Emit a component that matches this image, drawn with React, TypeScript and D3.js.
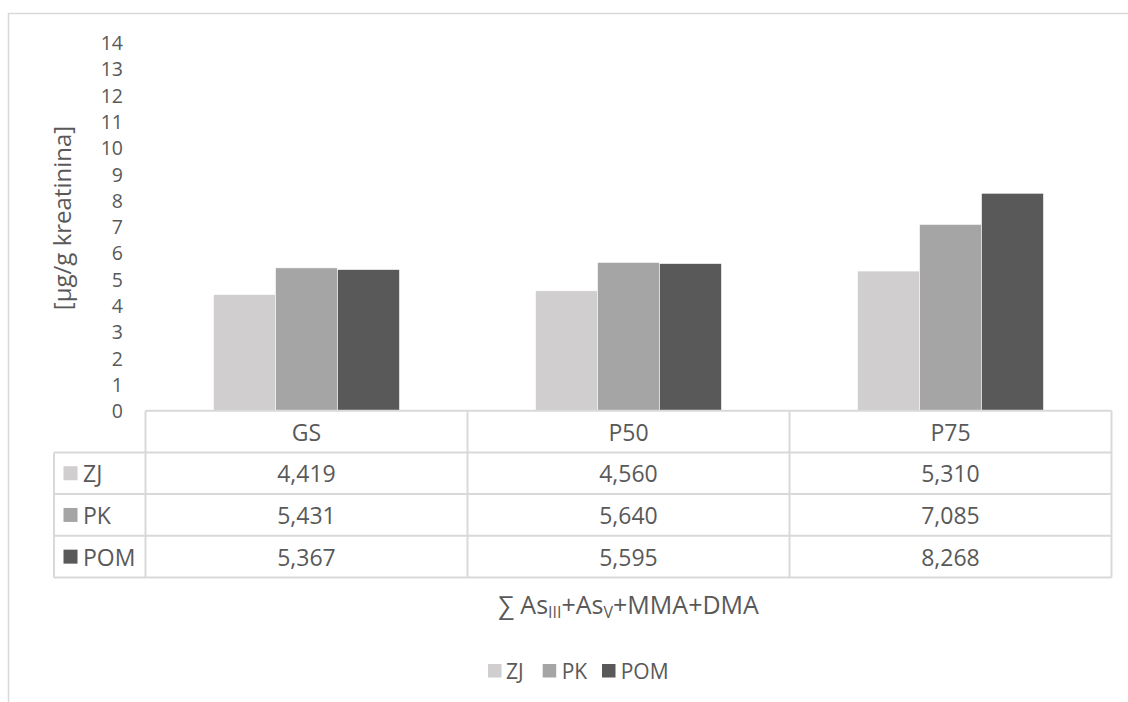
import React from "react";
import * as d3 from "d3";

const categories = ["GS", "P50", "P75"];
const seriesNames = ["ZJ", "PK", "POM"];
const zjValues = [4.419, 4.56, 5.31];
const pkValues = [5.431, 5.64, 7.085];
const pomValues = [5.367, 5.595, 8.268];
const zjLabels = ["4,419", "4,560", "5,310"];
const pkLabels = ["5,431", "5,640", "7,085"];
const pomLabels = ["5,367", "5,595", "8,268"];
const yTicks = [0, 1, 2, 3, 4, 5, 6, 7, 8, 9, 10, 11, 12, 13, 14];
const colors = ["#d0cece", "#a5a5a5", "#595959"];

const W = 1128;
const H = 702;
const FONT = "'Open Sans', sans-serif";
const TEXT = "#595959";
const GRID = "#d9d9d9";

export default function App() {
  const series = [zjValues, pkValues, pomValues];
  const labels = [zjLabels, pkLabels, pomLabels];

  const plotLeft = 145.5;
  const plotRight = 1111.5;
  const baseY = 410.7;
  const rowH = 41.7;
  const legendColLeft = 54;

  const x = d3.scaleBand<string>().domain(categories).range([plotLeft, plotRight]).paddingInner(0).paddingOuter(0);
  const y = d3.scaleLinear().domain([0, 14]).range([baseY, 42.5]);
  const bw = x.bandwidth();
  const groupW = bw * (186 / 322);
  const xs = d3.scaleBand<string>().domain(seriesNames).range([0, groupW]).padding(0);

  const rowsY = [0, 1, 2, 3, 4].map((i) => baseY + i * rowH);

  return (
    <svg width={W} height={H} style={{ position: "absolute", left: 0, top: 0 }} fontFamily={FONT}>
      <rect x={0} y={0} width={W} height={H} fill="#fff" />
      {/* outer chart border */}
      <rect x={8.5} y={13.5} width={W + 20} height={H + 20} fill="none" stroke={GRID} strokeWidth={1.5} />

      {/* y ticks */}
      {yTicks.map((t) => (
        <text key={t} x={123} y={y(t)} textAnchor="end" dominantBaseline="central" fontSize={19.5} fill={TEXT}>
          {t}
        </text>
      ))}

      {/* y title */}
      <text
        transform={`translate(61,218) rotate(-90)`}
        textAnchor="middle"
        dominantBaseline="central"
        fontSize={24}
        fill={TEXT}
      >
        [µg/g kreatinina]
      </text>

      {/* bars */}
      {categories.map((c, ci) => {
        const gx = (x(c) as number) + (bw - groupW) / 2;
        return seriesNames.map((s, si) => {
          const v = series[si][ci];
          return (
            <rect
              key={c + s}
              x={gx + (xs(s) as number)}
              y={y(v)}
              width={xs.bandwidth()}
              height={baseY - y(v)}
              fill={colors[si]}
              stroke="#ffffff"
              strokeWidth={0.6}
            />
          );
        });
      })}

      {/* data table grid */}
      <g stroke={GRID} strokeWidth={2} fill="none">
        <line x1={plotLeft} x2={plotRight} y1={rowsY[0]} y2={rowsY[0]} />
        {[1, 2, 3, 4].map((i) => (
          <line key={i} x1={legendColLeft} x2={plotRight} y1={rowsY[i]} y2={rowsY[i]} />
        ))}
        <line x1={legendColLeft} x2={legendColLeft} y1={rowsY[1]} y2={rowsY[4]} />
        {categories.map((c) => (
          <line key={c} x1={x(c) as number} x2={x(c) as number} y1={rowsY[0]} y2={rowsY[4]} />
        ))}
        <line x1={plotRight} x2={plotRight} y1={rowsY[0]} y2={rowsY[4]} />
      </g>

      {/* header categories */}
      {categories.map((c) => (
        <text key={c} x={(x(c) as number) + bw / 2} y={rowsY[0] + rowH / 2} textAnchor="middle" dominantBaseline="central" fontSize={23} fill={TEXT}>
          {c}
        </text>
      ))}

      {/* rows */}
      {seriesNames.map((s, si) => (
        <g key={s}>
          <rect x={63.5} y={rowsY[si + 1] + rowH / 2 - 7} width={14} height={14} fill={colors[si]} />
          <text x={83} y={rowsY[si + 1] + rowH / 2} dominantBaseline="central" fontSize={23} fill={TEXT}>
            {s}
          </text>
          {categories.map((c, ci) => (
            <text key={c} x={(x(c) as number) + bw / 2} y={rowsY[si + 1] + rowH / 2} textAnchor="middle" dominantBaseline="central" fontSize={23} fill={TEXT}>
              {labels[si][ci]}
            </text>
          ))}
        </g>
      ))}

      {/* x title */}
      <text x={(plotLeft + plotRight) / 2} y={614} textAnchor="middle" fontSize={25} fill={TEXT}>
        <tspan>∑ As</tspan>
        <tspan fontSize={16} dy={4}>III</tspan>
        <tspan dy={-4}>+As</tspan>
        <tspan fontSize={16} dy={4}>V</tspan>
        <tspan dy={-4}>+MMA+DMA</tspan>
      </text>

      {/* legend */}
      {(() => {
        const items = [
          { x: 488, tx: 506 },
          { x: 542.7, tx: 561.7 },
          { x: 602, tx: 620.7 },
        ];
        return seriesNames.map((s, si) => (
          <g key={s}>
            <rect x={items[si].x} y={664} width={13.5} height={13.5} fill={colors[si]} />
            <text x={items[si].tx} y={671} dominantBaseline="central" fontSize={21} fill={TEXT}>
              {s}
            </text>
          </g>
        ));
      })()}
    </svg>
  );
}
